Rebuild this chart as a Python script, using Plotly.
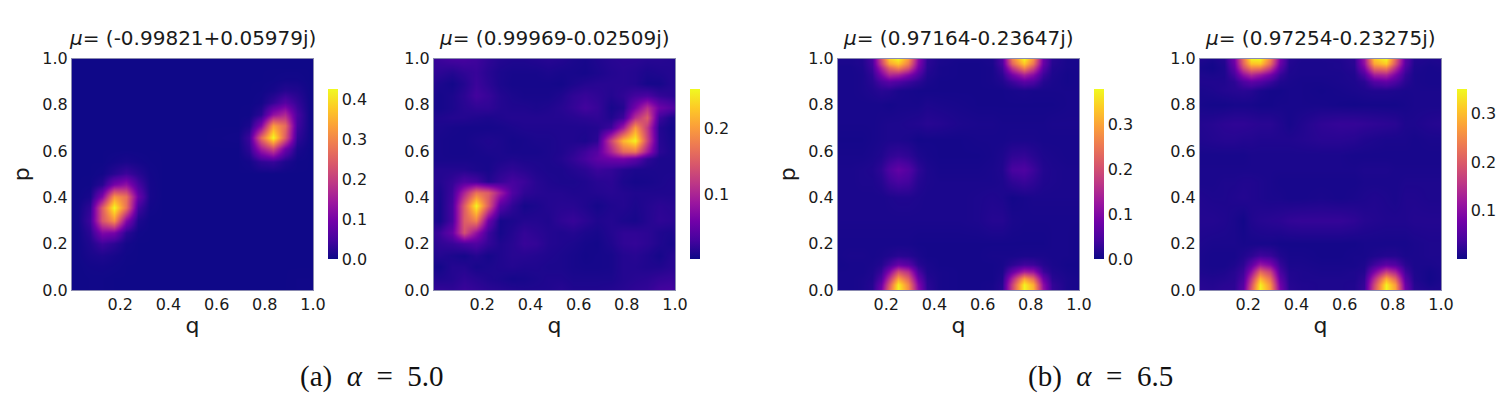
import plotly.graph_objects as go

W, H = 1505, 395

q1 = [0, .025, .075, .125, .175, .225, .275, .325, .375, .45, .55, .69, .735, .785, .835, .885, .935, .985, 1]
p1 = [0, .05, .1, .15, .2, .25, .3, .355, .405, .455, .505, .555, .61, .66, .71, .76, .81, .86, .91, .96, 1]
z1 = [
    [2, 2, 3, 3, 2, 2, 2, 2, 2, 2, 2, 2, 2, 2, 2, 2, 3, 3, 2],
    [2, 2, 3, 3, 2, 2, 2, 2, 2, 2, 2, 2, 2, 2, 2, 2, 3, 3, 2],
    [2, 2, 5, 6, 4, 2, 2, 2, 2, 2, 2, 2, 2, 2, 2, 2, 2, 2, 2],
    [2, 3, 10, 14, 8, 3, 2, 2, 2, 2, 2, 2, 2, 2, 2, 2, 2, 2, 2],
    [2, 3, 16, 40, 25, 6, 2, 2, 2, 2, 2, 2, 2, 2, 2, 2, 2, 2, 2],
    [2, 3, 26, 110, 100, 25, 4, 2, 2, 2, 2, 2, 2, 2, 2, 2, 2, 2, 2],
    [2, 5, 42, 235, 315, 115, 14, 2, 2, 2, 2, 2, 2, 2, 2, 2, 2, 2, 2],
    [2, 4, 30, 245, 427, 275, 45, 5, 2, 2, 2, 2, 2, 2, 2, 2, 2, 2, 2],
    [2, 2, 10, 110, 320, 275, 85, 8, 2, 2, 2, 2, 2, 2, 2, 2, 2, 2, 2],
    [2, 2, 3, 22, 100, 130, 50, 7, 2, 2, 2, 2, 2, 2, 2, 2, 2, 2, 2],
    [2, 2, 2, 5, 22, 40, 22, 5, 2, 2, 2, 2, 2, 2, 2, 2, 2, 2, 2],
    [2, 2, 2, 2, 6, 10, 6, 3, 2, 2, 2, 2, 6, 28, 35, 14, 3, 2, 2],
    [2, 2, 2, 2, 2, 2, 2, 2, 2, 2, 2, 2, 28, 150, 220, 90, 12, 2, 2],
    [2, 2, 2, 2, 2, 2, 2, 2, 2, 2, 2, 4, 40, 265, 427, 245, 30, 4, 2],
    [2, 2, 2, 2, 2, 2, 2, 2, 2, 2, 2, 2, 12, 110, 330, 265, 45, 5, 2],
    [2, 2, 2, 2, 2, 2, 2, 2, 2, 2, 2, 2, 3, 25, 130, 170, 50, 5, 2],
    [2, 2, 2, 2, 2, 2, 2, 2, 2, 2, 2, 2, 2, 6, 32, 65, 32, 4, 2],
    [2, 2, 2, 2, 2, 2, 2, 2, 2, 2, 2, 2, 2, 3, 8, 20, 16, 3, 2],
    [2, 2, 2, 2, 2, 2, 2, 2, 2, 2, 2, 2, 2, 2, 3, 5, 5, 2, 2],
    [2, 2, 2, 2, 2, 2, 2, 2, 2, 2, 2, 2, 2, 2, 2, 2, 2, 2, 2],
    [2, 2, 2, 2, 2, 2, 2, 2, 2, 2, 2, 2, 2, 2, 2, 2, 2, 2, 2],
]

q2 = [0, .025, .075, .125, .175, .225, .275, .325, .375, .425, .475, .525, .575, .625, .675, .735, .785, .835, .885, .935, .985, 1]
p2 = [0, .05, .1, .15, .2, .25, .3, .365, .42, .47, .52, .57, .60, .645, .70, .745, .79, .84, .89, .94, 1]
z2 = [
    [20, 20, 18, 24, 20, 16, 14, 12, 10, 10, 10, 14, 10, 10, 10, 12, 14, 18, 20, 28, 30, 25],
    [12, 10, 12, 18, 14, 10, 8, 5, 6, 8, 10, 10, 8, 8, 8, 8, 12, 14, 16, 20, 22, 20],
    [5, 4, 12, 12, 6, 8, 10, 12, 10, 10, 8, 8, 6, 5, 5, 6, 12, 12, 10, 10, 14, 14],
    [10, 12, 8, 5, 12, 5, 10, 14, 14, 12, 10, 8, 6, 4, 5, 6, 12, 14, 10, 5, 12, 14],
    [15, 18, 22, 30, 35, 20, 10, 14, 22, 20, 12, 10, 8, 5, 4, 10, 18, 20, 16, 10, 6, 8],
    [20, 25, 50, 140, 80, 25, 5, 12, 20, 16, 12, 10, 12, 8, 6, 12, 18, 18, 16, 10, 8, 12],
    [8, 6, 30, 150, 180, 55, 5, 8, 12, 12, 10, 18, 22, 16, 10, 12, 8, 6, 12, 18, 16, 14],
    [12, 6, 30, 150, 258, 150, 40, 18, 5, 8, 12, 14, 14, 10, 5, 10, 12, 8, 12, 16, 14, 14],
    [12, 8, 25, 100, 170, 150, 90, 35, 18, 14, 12, 12, 10, 10, 12, 14, 12, 10, 10, 10, 10, 10],
    [14, 12, 20, 35, 30, 12, 22, 30, 24, 14, 10, 8, 8, 10, 14, 16, 8, 5, 6, 8, 10, 10],
    [12, 12, 12, 12, 8, 6, 14, 18, 14, 10, 8, 8, 12, 16, 24, 20, 12, 8, 8, 8, 8, 8],
    [6, 6, 6, 6, 6, 6, 8, 10, 8, 8, 8, 12, 20, 30, 45, 55, 60, 45, 18, 8, 8, 8],
    [6, 6, 5, 5, 6, 8, 8, 6, 6, 6, 8, 10, 16, 26, 40, 100, 160, 170, 90, 16, 8, 8],
    [8, 6, 5, 5, 8, 10, 8, 5, 6, 8, 8, 10, 10, 8, 16, 130, 220, 258, 130, 14, 6, 8],
    [8, 8, 6, 5, 5, 5, 6, 8, 10, 10, 10, 10, 10, 10, 12, 25, 90, 200, 120, 12, 4, 6],
    [10, 10, 12, 12, 10, 8, 10, 12, 12, 12, 12, 12, 14, 16, 18, 10, 25, 110, 150, 25, 8, 8],
    [6, 5, 8, 14, 18, 18, 12, 10, 10, 8, 10, 14, 20, 28, 22, 6, 12, 60, 110, 55, 40, 35],
    [8, 5, 8, 16, 28, 22, 12, 8, 6, 6, 6, 10, 18, 22, 18, 12, 18, 28, 32, 20, 16, 14],
    [12, 8, 4, 12, 24, 16, 8, 5, 5, 5, 5, 4, 8, 12, 14, 14, 14, 12, 5, 5, 12, 12],
    [18, 16, 12, 18, 22, 14, 8, 6, 6, 6, 8, 6, 6, 5, 8, 12, 14, 12, 8, 10, 12, 10],
    [22, 25, 30, 30, 26, 18, 12, 10, 10, 12, 14, 12, 8, 6, 10, 14, 16, 16, 14, 14, 12, 10],
]

q34 = [0, .05, .1, .14, .18, .21, .25, .29, .33, .37, .42, .5, .58, .64, .68, .72, .77, .81, .85, .89, .95, 1]
p34 = [0, .025, .05, .08, .11, .15, .2, .3, .4, .47, .52, .58, .65, .72, .8, .86, .9, .93, .96, .98, 1]
z3 = [
    [8, 8, 10, 18, 90, 240, 378, 280, 110, 25, 8, 6, 6, 8, 20, 190, 378, 320, 120, 30, 10, 8],
    [8, 8, 10, 18, 75, 215, 370, 270, 100, 22, 8, 6, 6, 8, 18, 185, 375, 310, 110, 28, 10, 8],
    [8, 8, 10, 14, 50, 165, 300, 225, 75, 18, 8, 6, 6, 6, 14, 145, 300, 240, 80, 20, 10, 8],
    [8, 8, 8, 12, 30, 100, 200, 160, 45, 12, 8, 6, 6, 6, 10, 70, 135, 120, 35, 14, 8, 6],
    [6, 8, 8, 10, 16, 40, 75, 60, 20, 10, 6, 6, 6, 6, 8, 22, 38, 35, 18, 10, 6, 6],
    [8, 10, 10, 8, 10, 14, 20, 18, 10, 6, 6, 6, 6, 8, 8, 8, 10, 10, 10, 8, 8, 6],
    [8, 8, 8, 8, 8, 8, 8, 8, 6, 6, 6, 6, 6, 6, 6, 6, 6, 6, 6, 8, 8, 6],
    [10, 10, 10, 10, 10, 10, 10, 10, 10, 10, 10, 10, 12, 18, 18, 10, 8, 8, 8, 8, 8, 8],
    [10, 10, 10, 10, 10, 12, 14, 14, 12, 10, 10, 10, 12, 14, 12, 5, 8, 10, 10, 10, 10, 10],
    [10, 10, 12, 12, 18, 35, 45, 40, 18, 12, 10, 10, 10, 10, 12, 25, 32, 25, 14, 12, 10, 10],
    [10, 10, 12, 14, 25, 50, 70, 55, 25, 12, 8, 8, 8, 10, 14, 45, 50, 35, 16, 12, 10, 10],
    [8, 8, 8, 10, 14, 25, 30, 25, 12, 8, 6, 6, 6, 8, 12, 25, 28, 20, 12, 10, 8, 8],
    [6, 6, 6, 8, 10, 12, 12, 10, 5, 6, 6, 6, 8, 8, 8, 10, 10, 10, 8, 8, 8, 8],
    [8, 8, 8, 8, 10, 12, 12, 14, 16, 20, 18, 12, 10, 10, 8, 8, 8, 8, 8, 10, 10, 10],
    [8, 8, 8, 8, 8, 6, 8, 8, 8, 12, 10, 8, 6, 6, 6, 6, 6, 6, 6, 6, 8, 8],
    [8, 8, 10, 14, 20, 18, 10, 8, 6, 6, 6, 6, 6, 6, 6, 8, 10, 8, 8, 8, 8, 8],
    [8, 8, 10, 20, 45, 60, 50, 35, 22, 10, 6, 6, 6, 8, 14, 35, 60, 50, 18, 10, 6, 8],
    [8, 8, 10, 25, 90, 150, 140, 100, 50, 15, 8, 6, 6, 8, 22, 85, 140, 105, 35, 12, 6, 8],
    [8, 8, 12, 35, 140, 230, 270, 210, 85, 20, 8, 6, 6, 8, 35, 170, 270, 195, 60, 15, 8, 8],
    [10, 10, 14, 40, 180, 300, 335, 260, 100, 22, 10, 6, 6, 10, 45, 230, 335, 250, 75, 18, 8, 8],
    [10, 10, 14, 45, 200, 340, 378, 290, 110, 25, 10, 8, 8, 10, 50, 260, 378, 280, 80, 20, 8, 8],
]
z4 = [
    [20, 18, 22, 22, 60, 205, 350, 270, 85, 20, 14, 12, 12, 14, 30, 190, 350, 280, 80, 20, 14, 14],
    [18, 16, 20, 22, 52, 185, 342, 260, 75, 18, 14, 12, 12, 14, 28, 178, 345, 270, 70, 18, 8, 12],
    [16, 14, 16, 20, 42, 155, 295, 225, 60, 16, 12, 12, 12, 12, 24, 145, 285, 215, 55, 14, 5, 10],
    [12, 10, 12, 18, 32, 105, 215, 170, 42, 14, 12, 10, 10, 12, 16, 85, 165, 130, 35, 12, 6, 10],
    [10, 8, 8, 12, 22, 58, 115, 90, 28, 10, 10, 8, 8, 8, 12, 35, 60, 50, 20, 10, 10, 12],
    [10, 8, 8, 8, 14, 22, 35, 30, 14, 8, 8, 6, 6, 8, 8, 12, 16, 16, 10, 10, 12, 12],
    [12, 10, 10, 10, 8, 8, 8, 8, 6, 6, 6, 6, 6, 6, 8, 8, 8, 8, 8, 10, 12, 12],
    [16, 16, 14, 10, 5, 14, 18, 20, 22, 26, 28, 28, 28, 24, 18, 16, 14, 14, 14, 16, 16, 16],
    [14, 12, 12, 14, 16, 14, 12, 10, 10, 8, 8, 10, 8, 10, 12, 14, 12, 10, 14, 14, 12, 12],
    [10, 10, 12, 12, 14, 14, 12, 10, 8, 8, 8, 8, 8, 8, 10, 10, 10, 10, 12, 12, 12, 12],
    [10, 10, 10, 10, 10, 10, 10, 10, 10, 10, 10, 10, 10, 10, 12, 12, 12, 10, 10, 10, 10, 10],
    [8, 8, 8, 8, 8, 10, 10, 10, 10, 10, 10, 10, 10, 8, 8, 8, 8, 8, 8, 8, 8, 8],
    [14, 16, 18, 18, 16, 16, 14, 14, 14, 14, 16, 20, 20, 18, 14, 12, 10, 10, 10, 8, 10, 10],
    [16, 18, 22, 24, 24, 22, 20, 20, 14, 8, 14, 24, 28, 28, 26, 24, 22, 20, 12, 12, 16, 18],
    [8, 6, 6, 8, 8, 8, 6, 6, 8, 8, 8, 8, 6, 5, 6, 6, 6, 6, 8, 10, 10, 10],
    [10, 12, 16, 18, 20, 18, 10, 6, 6, 8, 8, 6, 8, 10, 12, 14, 14, 12, 10, 10, 10, 10],
    [14, 14, 14, 22, 45, 60, 50, 32, 14, 10, 8, 8, 10, 12, 20, 50, 62, 45, 20, 10, 8, 8],
    [12, 10, 12, 40, 105, 140, 115, 80, 28, 12, 10, 10, 10, 14, 45, 125, 135, 85, 28, 10, 8, 8],
    [8, 5, 12, 60, 180, 245, 240, 170, 55, 14, 10, 10, 12, 18, 85, 225, 245, 150, 45, 12, 8, 10],
    [10, 6, 14, 70, 210, 305, 310, 220, 70, 16, 10, 10, 12, 20, 105, 280, 315, 195, 55, 14, 10, 12],
    [14, 10, 18, 80, 225, 345, 350, 245, 80, 18, 12, 12, 14, 22, 115, 310, 350, 215, 60, 16, 12, 14],
]

titles = ["(-0.99821+0.05979j)", "(0.99969-0.02509j)", "(0.97164-0.23647j)", "(0.97254-0.23275j)"]
captions = ["(a)\u00a0\u00a0<i>α</i>\u00a0\u00a0=\u00a0\u00a05.0", "(b)\u00a0\u00a0<i>α</i>\u00a0\u00a0=\u00a0\u00a06.5"]
x_ticks = [0.2, 0.4, 0.6, 0.8, 1.0]
y_ticks = [0.0, 0.2, 0.4, 0.6, 0.8, 1.0]
cb_ticks = [[0.0, 0.1, 0.2, 0.3, 0.4], [0.1, 0.2], [0.0, 0.1, 0.2, 0.3], [0.1, 0.2, 0.3]]
z_ranges = [(0.0, 0.427), (0.0005, 0.261), (0.0, 0.380), (0.0007, 0.351)]

panels = [(q1, p1, z1), (q2, p2, z2), (q34, p34, z3), (q34, p34, z4)]
ax_left = [72, 434, 838, 1200]
ax_w = 241
ax_top, ax_bottom = 58.5, 290
cb_left = [328, 690, 1094, 1457]
cb_top, cb_bottom = 89, 259
show_p = [True, False, True, False]

FONT = "DejaVu Sans"
TXT = "#1a1a1a"
fig = go.Figure()
annotations = []
for i, (qs, ps, zs) in enumerate(panels):
    n = "" if i == 0 else str(i + 1)
    fig.add_trace(go.Heatmap(
        x=qs, y=ps, z=[[v / 1000 for v in r] for r in zs],
        xaxis="x" + n, yaxis="y" + n,
        colorscale="Plasma", zmin=z_ranges[i][0], zmax=z_ranges[i][1], zsmooth="best",
        colorbar=dict(
            x=cb_left[i] / W, xanchor="left", xpad=0, thickness=10,
            y=(H - cb_bottom) / H, yanchor="bottom", ypad=0,
            lenmode="fraction", len=(cb_bottom - cb_top) / H,
            outlinewidth=0, ticks="", tickvals=cb_ticks[i],
            ticktext=[f"{t:.1f}" for t in cb_ticks[i]],
            tickfont=dict(family=FONT, size=16, color=TXT),
        ),
    ))
    axis = dict(showgrid=False, zeroline=False, showline=True, mirror=True,
                linecolor="#8a8ab0", linewidth=1, ticks="", range=[0, 1],
                tickfont=dict(family=FONT, size=16, color=TXT))
    fig.update_layout({
        "xaxis" + n: dict(axis, domain=[ax_left[i] / W, (ax_left[i] + ax_w) / W], anchor="y" + n,
                          tickvals=x_ticks, ticktext=[f"{t:.1f}" for t in x_ticks],
                          title=dict(text="q", font=dict(family=FONT, size=22, color=TXT), standoff=4)),
        "yaxis" + n: dict(axis, domain=[(H - ax_bottom) / H, (H - ax_top) / H], anchor="x" + n,
                          tickvals=y_ticks, ticktext=[f"{t:.1f}" for t in y_ticks],
                          title=dict(text="p" if show_p[i] else "", font=dict(family=FONT, size=22, color=TXT), standoff=6)),
    })
    annotations.append(dict(
        text="<i>μ</i>= " + titles[i], xref="paper", yref="paper",
        x=(ax_left[i] + ax_w / 2) / W, y=(H - 38) / H, xanchor="center", yanchor="middle",
        showarrow=False, font=dict(family=FONT, size=20, color=TXT)))

for cx, txt in zip([372, 1100], captions):
    annotations.append(dict(text=txt, xref="paper", yref="paper", x=cx / W, y=(H - 376) / H,
                            xanchor="center", yanchor="middle", showarrow=False,
                            font=dict(family="Liberation Serif", size=29, color="#111111")))

fig.update_layout(width=W, height=H, margin=dict(l=0, r=0, t=0, b=0, autoexpand=False),
                  paper_bgcolor="white", plot_bgcolor="white", annotations=annotations)
fig.write_html("out.html", config={"displayModeBar": False},
               post_script="document.body.style.margin='0';")
